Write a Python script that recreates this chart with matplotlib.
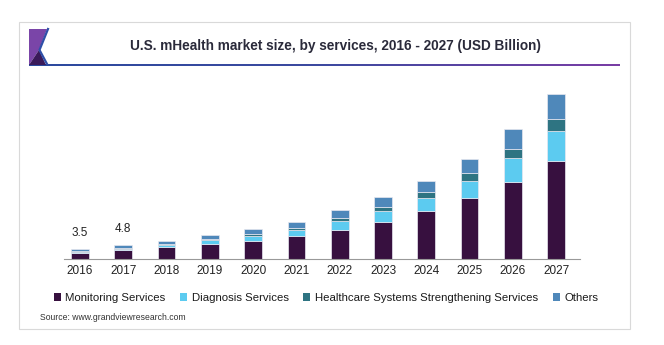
import matplotlib.pyplot as plt
import numpy as np
from matplotlib.patches import Rectangle, Polygon, Patch
from matplotlib.lines import Line2D
from matplotlib.colors import LinearSegmentedColormap

plt.rcParams['font.family'] = ['Liberation Sans', 'DejaVu Sans']

# data (USD Billion)
years = ['2016', '2017', '2018', '2019', '2020', '2021',
         '2022', '2023', '2024', '2025', '2026', '2027']
monitoring = [2.0, 3.0, 4.0, 5.2, 6.2, 8.0, 10.1, 12.9, 16.4, 21.1, 26.6, 33.8]
diagnosis = [0.5, 0.6, 0.9, 1.3, 1.8, 2.1, 3.0, 3.8, 4.7, 5.9, 8.2, 10.4]
healthcare = [0.2, 0.25, 0.35, 0.45, 0.5, 0.7, 0.9, 1.3, 2.0, 2.5, 3.2, 4.1]
others = [0.8, 0.95, 1.0, 1.3, 1.7, 2.1, 3.0, 3.2, 3.8, 4.9, 6.8, 8.5]
series_names = ['Monitoring Services', 'Diagnosis Services',
                'Healthcare Systems Strengthening Services', 'Others']
total_labels = {0: '3.5', 1: '4.8'}

colors = ['#37103f', '#5ccbf0', '#2e7482', '#4f88ba']

W, H = 664, 345
fig = plt.figure(figsize=(W / 100, H / 100), dpi=100)


def fx(x):
    return x / W


def fy(y):
    return 1 - y / H


# card background
fig.patches.append(Rectangle((fx(19), fy(329)), (630 - 19) / W, (329 - 22) / H,
                             transform=fig.transFigure, facecolor='white',
                             edgecolor='#d9d9d9', linewidth=0.8, zorder=-10))

# logo
fig.patches.append(Polygon([(fx(29), fy(29)), (fx(47), fy(29)), (fx(39), fy(50)), (fx(29), fy(65))],
                           closed=True, transform=fig.transFigure, facecolor='#7a45a8',
                           edgecolor='none', zorder=5))
fig.patches.append(Polygon([(fx(29), fy(65)), (fx(39), fy(50)), (fx(46), fy(65))],
                           closed=True, transform=fig.transFigure, facecolor='#3a1a5a',
                           edgecolor='none', zorder=5))
fig.lines.append(Line2D([fx(48), fx(39.5), fx(47)], [fy(29), fy(50), fy(64)],
                        transform=fig.transFigure, color='#2f4fa8', linewidth=1.6, zorder=6))

# gradient underline
gax = fig.add_axes([fx(29), fy(66), (620 - 29) / W, 2.5 / H])
grad = np.linspace(0, 1, 256).reshape(1, -1)
gcmap = LinearSegmentedColormap.from_list('g', ['#2c4a9e', '#3d4aa0', '#7a3ea5'])
gax.imshow(grad, aspect='auto', cmap=gcmap)
gax.axis('off')

fig.text(335 / W, fy(46), 'U.S. mHealth market size, by services, 2016 - 2027 (USD Billion)',
         ha='center', va='center', fontsize=9.8, fontweight='bold', color='#2a2a3a')

# bar chart
ax = fig.add_axes([64 / W, 86 / H, (580 - 64) / W, 179 / H])
x = np.arange(len(years))
bottom = np.zeros(len(years))
for vals, col, name in zip([monitoring, diagnosis, healthcare, others], colors, series_names):
    ax.bar(x, vals, 0.41, bottom=bottom, color=col, edgecolor='#e8e8f0',
           linewidth=0.5, label=name)
    bottom = bottom + np.array(vals)

for i, lab in total_labels.items():
    ax.text(x[i], bottom[i] + 3.5, lab, ha='center', va='bottom', fontsize=8.5, color='#222222')

ax.set_xlim(-0.37, 11.55)
ax.set_ylim(0, 61.7)
ax.set_xticks(x)
ax.set_xticklabels(years, fontsize=8.5, color='#222222')
ax.tick_params(axis='x', length=0, pad=4)
ax.set_yticks([])
for s in ['top', 'right', 'left']:
    ax.spines[s].set_visible(False)
ax.spines['bottom'].set_color('#999999')
ax.spines['bottom'].set_linewidth(0.8)
ax.patch.set_alpha(0)

handles = [Patch(facecolor=c, edgecolor='none') for c in colors]
fig.legend(handles, series_names, loc='center', bbox_to_anchor=(326 / W, fy(298)),
           ncol=4, frameon=False, fontsize=8.2, handlelength=0.6, handleheight=0.6,
           handletextpad=0.4, columnspacing=1.3, labelcolor='#1a1a1a')

fig.text(fx(40), fy(317), 'Source: www.grandviewresearch.com', ha='left', va='center',
         fontsize=6.2, color='#333333')

fig.savefig('out.png', dpi=100, facecolor='white')
